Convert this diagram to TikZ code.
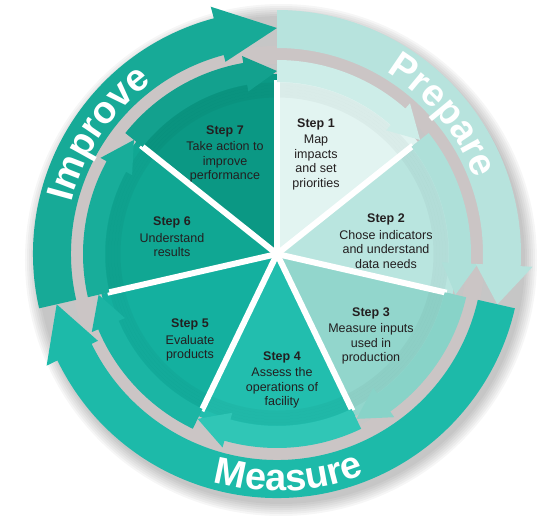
\documentclass[tikz,border=0pt]{standalone}
\usepackage{fontspec}
\setmainfont{Liberation Sans}
\usepackage{tikz}
\usetikzlibrary{decorations.text}
\usetikzlibrary{positioning}
\definecolor{sliceA}{HTML}{E2F4F1}
\definecolor{sliceB}{HTML}{B9E5DF}
\definecolor{sliceC}{HTML}{92D6CC}
\definecolor{sliceD}{HTML}{22BEAE}
\definecolor{sliceE}{HTML}{14B09F}
\definecolor{sliceF}{HTML}{10A793}
\definecolor{sliceG}{HTML}{0B9884}
\definecolor{ringA}{HTML}{CDEDE8}
\definecolor{ringB}{HTML}{AEE0D9}
\definecolor{ringC}{HTML}{88D3C8}
\definecolor{ringD}{HTML}{30C6B6}
\definecolor{ringE}{HTML}{1BB5A4}
\definecolor{ringF}{HTML}{18AD9A}
\definecolor{ringG}{HTML}{13A18E}
\definecolor{prep}{HTML}{B7E3DD}
\definecolor{meas}{HTML}{1DBAA9}
\definecolor{impr}{HTML}{17AA97}
\definecolor{ink}{HTML}{231F20}
\definecolor{gap}{HTML}{CBC5C5}
\newcommand{\ringfont}{\bfseries\fontsize{38}{38}\selectfont}
\tikzset{steptext/.style = {align = center, text = ink, inner sep = 0, font = \fontsize{12.5}{14.5}\selectfont}}
\tikzset{ringtext/.style = {decorate, decoration = {text along path, text align = center, text color = white, text = {|\ringfont|#1}}}}

\begin{document}
\begin{tikzpicture}[x=1pt, y=1pt]
    \useasboundingbox (-277, -261) rectangle (263, 254);
    \foreach \i in {1,...,7}{
      \fill [black, opacity = 0.035] (4, -6) circle (242 + 2*\i);
    }
    \fill [gap, even odd rule] (0, 0) circle (208) (0, 0) circle (190);
    \foreach \s/\c in {90/sliceA, 38.57/sliceB, -12.86/sliceC, -64.29/sliceD, -115.71/sliceE, -167.14/sliceF, -218.57/sliceG}{
      \fill [\c] (0, 0) -- (\s:180) arc [start angle = \s, delta angle = -51.43, radius = 180] -- cycle;
    }
    \foreach \r in {158,161,...,170}{
      \draw [black, opacity = 0.03, line width = 3] (0, 0) circle (\r);
    }
    \foreach \s in {90, 38.57, -12.86, -64.29, -115.71, -167.14, -218.57}{
      \draw [white, line width = 6] (0, 0) -- (\s:174);
    }
    \foreach \s/\c in {90/ringA, 38.57/ringB, -12.86/ringC, -64.29/ringD, -115.71/ringE, -167.14/ringF, -218.57/ringG}{
      \pgfmathsetmacro{\e}{\s - 51.43}
      \pgfmathsetmacro{\h}{\e + 10}
      \fill [\c] (\s:172) arc [start angle = \s, end angle = \h, radius = 172] -- (\h:165) -- (\e:183) -- (\h:201) -- (\h:194) arc [start angle = \h, end angle = \s, radius = 194] -- cycle;
    }
    \foreach \s/\e/\l/\c in {192.86/90/15/impr, 90/-12.86/10/prep, -12.86/-167.14/13/meas}{
      \pgfmathsetmacro{\h}{\e + \l}
      \fill [\c] (\s:206) arc [start angle = \s, end angle = \h, radius = 206] -- (\h:199) -- (\e:226) -- (\h:256) -- (\h:244) arc [start angle = \h, end angle = \s, radius = 244] -- cycle;
    }
    \path [ringtext = Prepare] (80:212) arc [start angle = 80, end angle = 0, radius = 212];
    \path [ringtext = Improve] (186:212) arc [start angle = 186, end angle = 106, radius = 212];
    \path [ringtext = Measure] (-127:237) arc [start angle = -127, end angle = -47, radius = 237];
    \node [steptext] (s1) at (39, 100) {\textbf{Step 1}\\[2pt]Map\\impacts\\and set\\priorities};
    \node [steptext] (s2) at (109, 13) {\textbf{Step 2}\\[2pt]Chose indicators\\and understand\\data needs};
    \node [steptext] (s3) at (94, -82) {\textbf{Step 3}\\[2pt]Measure inputs\\used in\\production};
    \node [steptext] (s4) at (5, -126) {\textbf{Step 4}\\[2pt]Assess the\\operations of\\facility};
    \node [steptext] (s5) at (-87, -86) {\textbf{Step 5}\\[2pt]Evaluate\\products};
    \node [steptext] (s6) at (-105, 17) {\textbf{Step 6}\\[2pt]Understand\\results};
    \node [steptext] (s7) at (-52, 100) {\textbf{Step 7}\\[2pt]Take action to\\improve\\performance};
  \end{tikzpicture}
\end{document}
